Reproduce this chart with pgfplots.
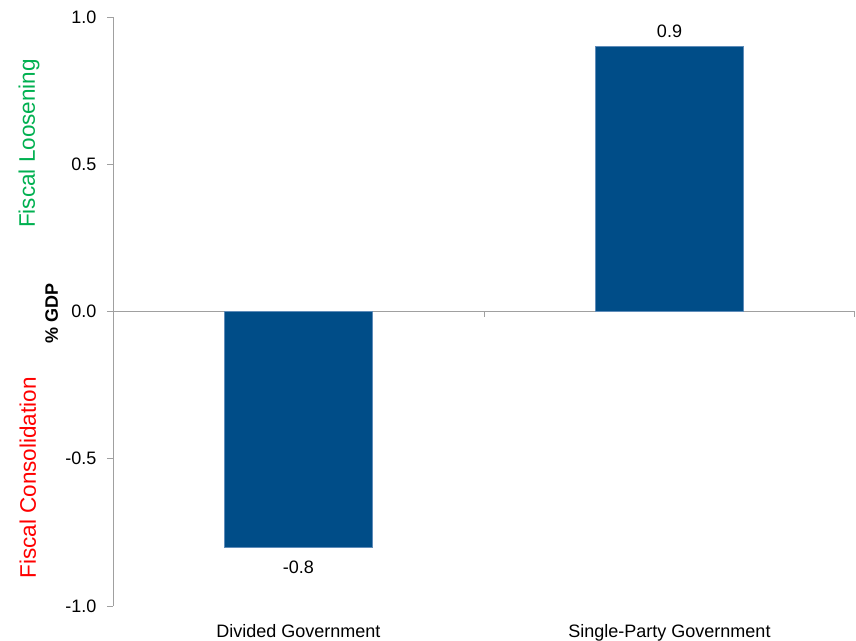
\documentclass[border=0pt]{standalone}
\usepackage{pgfplots}
\pgfplotsset{compat=1.18}
\usepackage{fontspec}
\setmainfont{Liberation Sans}
\definecolor{barblue}{RGB}{0,77,136}
\definecolor{baredge}{RGB}{95,140,185}
\definecolor{axisgray}{RGB}{160,160,160}
\definecolor{loosegreen}{RGB}{0,176,80}
\begin{document}
\begin{tikzpicture}
\begin{axis}[
  name=ax,
  scale only axis,
  width=742bp, height=589bp,
  xmin=-0.5, xmax=1.5,
  ymin=-1, ymax=1,
  axis y line*=left,
  axis x line*=bottom,
  x axis line style={draw=none},
  y axis line style={draw=axisgray, line width=0.8bp},
  ytick={-1,-0.5,0,0.5,1},
  yticklabels={-1.0,-0.5,0.0,0.5,1.0},
  xtick={0,1},
  xticklabels={Divided Government,Single-Party Government},
  major x tick style={draw=none},
  ytick style={draw=axisgray, line width=0.8bp},
  tick align=outside,
  major tick length=6bp,
  font=\fontsize{18bp}{21bp}\selectfont,
  xticklabel style={anchor=base, yshift=-25bp},
  yticklabel style={xshift=-7bp},
  ybar, bar width=148bp, bar shift=0pt,
  clip=false,
]
% zero line with category separators
\draw[axisgray, line width=0.8bp] (axis cs:-0.5,0) -- (axis cs:1.5,0);
\draw[axisgray, line width=0.8bp] (axis cs:0.5,0) -- ([yshift=-6bp]axis cs:0.5,0);
\draw[axisgray, line width=0.8bp] ([xshift=-0.4bp]axis cs:1.5,0) -- ([xshift=-0.4bp,yshift=-6bp]axis cs:1.5,0);

\addplot[fill=barblue, draw=baredge, line width=0.6bp,
  nodes near coords, point meta=explicit symbolic,
  every node near coord/.append style={anchor=base, yshift=-26bp}]
  coordinates {(0,-0.8) [-0.8]};
\addplot[fill=barblue, draw=baredge, line width=0.6bp,
  nodes near coords, point meta=explicit symbolic,
  every node near coord/.append style={anchor=base, yshift=9bp}]
  coordinates {(1,0.9) [0.9]};
\end{axis}

\node[rotate=90, anchor=base, text=loosegreen, font=\fontsize{22.5bp}{26bp}\selectfont]
  at ([shift={(-78bp,462.5bp)}]ax.south west) {Fiscal Loosening};
\node[rotate=90, anchor=base, text=red, font=\fontsize{22.5bp}{26bp}\selectfont]
  at ([shift={(-77bp,128bp)}]ax.south west) {Fiscal Consolidation};
\node[rotate=90, anchor=base, font=\bfseries\fontsize{18bp}{21bp}\selectfont]
  at ([shift={(-55bp,293bp)}]ax.south west) {\% GDP};

\pgfresetboundingbox
\path[use as bounding box] ([shift={(-113bp,-35bp)}]ax.south west)
  rectangle ([shift={(1bp,17bp)}]ax.north east);
\end{tikzpicture}
\end{document}
